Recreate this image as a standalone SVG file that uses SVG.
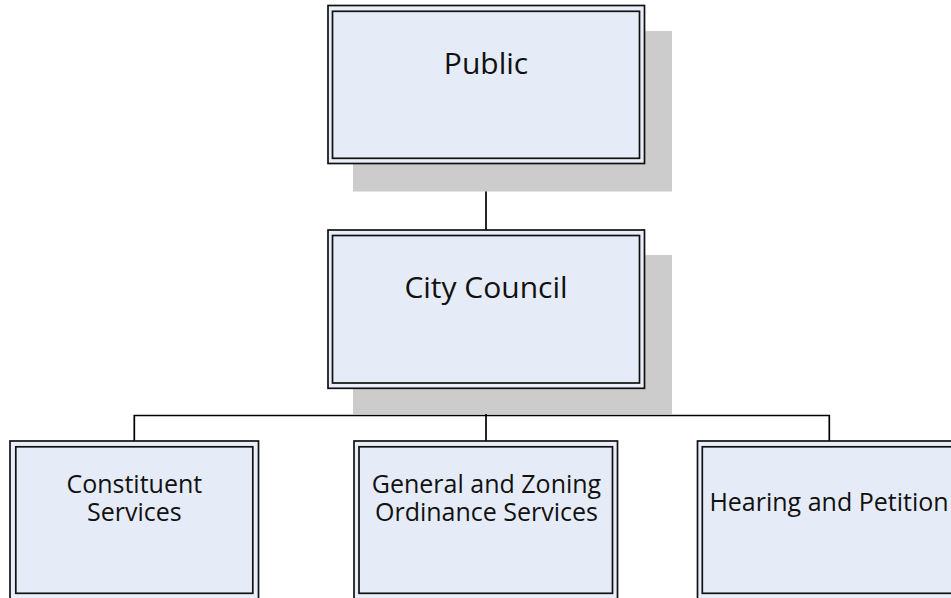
<svg xmlns="http://www.w3.org/2000/svg" width="951" height="598" viewBox="0 0 951 598">
<style>
.shadow{fill:#cccccc;stroke:none}
.outer{fill:#e9eef8;stroke:#111111;stroke-width:1.7}
.inner{fill:#e6ecf7;stroke:#111111;stroke-width:1.7}
.big{font-family:"Open Sans","Noto Sans",sans-serif;font-size:30px;fill:#111111;text-anchor:middle}
.small{font-family:"Open Sans","Noto Sans",sans-serif;font-size:25px;fill:#111111;text-anchor:middle}
.conn{fill:none;stroke:#000000;stroke-width:1.7}
</style>
<rect width="951" height="598" fill="#ffffff"/>
<g id="connectors">
<line class="conn" x1="486" y1="164" x2="486" y2="230"/>
<line class="conn" x1="486" y1="388" x2="486" y2="441"/>
<polyline class="conn" points="134.3,441 134.3,415.5 829.3,415.5 829.3,441"/>
</g>
<g id="public">
<rect class="shadow" x="353" y="31" width="319" height="160.5"/>
<rect class="outer" x="328" y="5.5" width="316.5" height="158"/>
<rect class="inner" x="332.5" y="11.3" width="307" height="147"/>
<text class="big" x="486" y="74">Public</text>
</g>
<g id="city-council">
<rect class="shadow" x="353" y="255" width="319" height="159"/>
<rect class="outer" x="328" y="230" width="316.5" height="158.3"/>
<rect class="inner" x="332.5" y="235.5" width="307" height="147.5"/>
<text class="big" x="486" y="298">City Council</text>
</g>
<g id="constituent-services">
<rect class="outer" x="10" y="441" width="248.5" height="160"/>
<rect class="inner" x="15.8" y="446.8" width="237" height="146.5"/>
<text class="small" x="134.3" y="492.5">Constituent</text>
<text class="small" x="134.3" y="521">Services</text>
</g>
<g id="general-zoning">
<rect class="outer" x="354" y="441" width="263.5" height="160"/>
<rect class="inner" x="359" y="446.8" width="253.5" height="146.5"/>
<text class="small" x="486.5" y="492.5">General and Zoning</text>
<text class="small" x="486.5" y="521">Ordinance Services</text>
</g>
<g id="hearing-petition">
<rect class="outer" x="697.5" y="441" width="264" height="160"/>
<rect class="inner" x="702.3" y="446.8" width="254" height="146.5"/>
<text class="small" x="829" y="511">Hearing and Petition</text>
</g>
</svg>
